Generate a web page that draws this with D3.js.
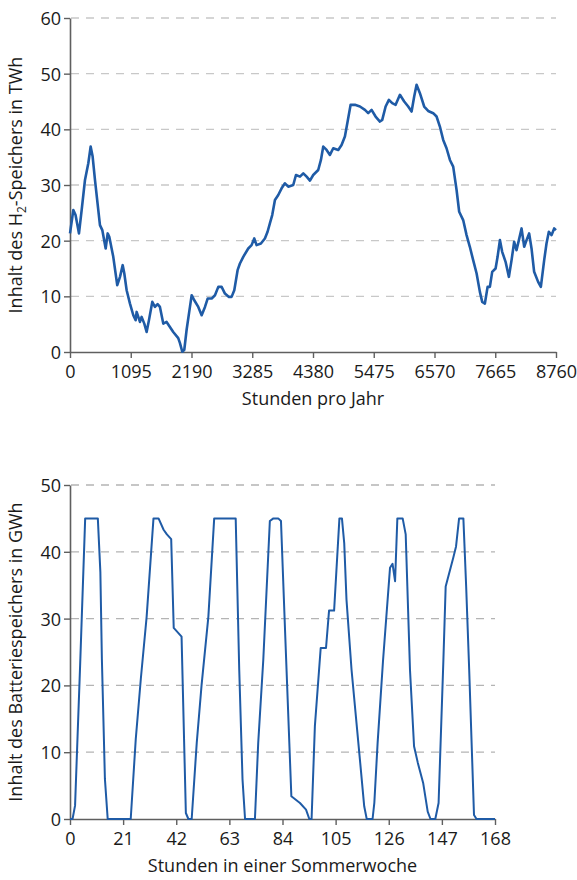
<!DOCTYPE html>
<html>
<head>
<meta charset="utf-8">
<script src="https://cdn.jsdelivr.net/npm/d3@7"></script>
<style>
  html, body { margin: 0; padding: 0; background: #fff; }
  svg { display: block; font-family: "Open Sans", "Noto Sans", sans-serif; }
</style>
</head>
<body>
<svg id="chart" width="577" height="880"></svg>
<script>
// ---- Data: H2 storage (TWh) over the year ----
const h2Hours = [0,60,100,162,210,270,330,372,408,450,510,540,582,643,679,708,780,852,901,950,979,1021,1081,1141,1183,1201,1261,1291,1339,1381,1423,1483,1531,1579,1621,1681,1741,1801,1861,1951,1982,2024,2060,2102,2162,2193,2240,2312,2373,2433,2481,2553,2613,2673,2733,2793,2865,2913,2961,3021,3063,3123,3213,3273,3321,3363,3441,3513,3561,3603,3645,3694,3754,3814,3874,3934,4024,4073,4145,4205,4265,4325,4384,4474,4523,4565,4625,4685,4745,4835,4895,4955,5004,5058,5136,5226,5316,5375,5436,5508,5586,5628,5689,5748,5808,5869,5947,6024,6096,6157,6204,6247,6307,6384,6456,6547,6607,6667,6727,6787,6848,6907,6968,7015,7087,7148,7207,7267,7329,7388,7430,7478,7527,7568,7610,7671,7707,7749,7790,7851,7911,7959,8006,8048,8091,8139,8187,8229,8276,8319,8366,8438,8487,8547,8589,8631,8680,8727,8760];
const h2Values = [21.3,25.5,24.6,21.3,25.5,30.9,33.9,36.9,35.1,30.9,25.5,22.8,21.9,18.6,21.3,20.7,17.1,12.0,13.5,15.6,14.1,11.1,8.7,6.6,5.7,7.2,5.4,6.3,5.1,3.6,5.7,9.0,8.1,8.6,8.1,5.1,5.4,4.5,3.6,2.5,1.6,0.05,0.4,4.0,8.1,10.2,9.3,8.1,6.6,8.1,9.6,9.6,10.2,11.7,11.7,10.5,9.9,9.9,11.1,14.7,15.9,17.1,18.6,19.2,20.4,19.2,19.5,20.4,21.6,23.1,24.6,27.3,28.2,29.4,30.3,29.7,30.0,31.8,31.5,32.1,31.5,30.8,31.8,32.7,34.5,36.9,36.3,35.4,36.6,36.3,37.2,38.7,41.4,44.4,44.4,44.1,43.5,42.9,43.5,42.3,41.4,41.7,44.1,45.3,44.7,44.4,46.2,45.0,44.1,43.2,45.9,48.0,46.5,44.1,43.3,42.9,42.3,40.5,38.1,36.6,34.5,33.3,29.1,25.2,23.7,21.0,18.9,16.5,14.1,10.8,9.0,8.7,11.7,11.7,14.4,15.0,17.1,20.1,18.0,16.2,13.5,16.5,19.8,18.3,20.1,22.2,18.9,20.1,21.3,18.6,14.4,12.6,11.7,16.5,19.5,21.6,21.0,22.2,21.9];
const h2XTicks = [0,1095,2190,3285,4380,5475,6570,7665,8760];
const h2YTicks = [0,10,20,30,40,50,60];

// ---- Data: battery storage (GWh) over a summer week ----
const batHours = [0,1,2,4,6,11,12,12.6,13.8,14.9,24,26,28,30.3,33,35,37,38.3,40,41,44.1,45.8,46.8,48.1,50.1,52,54.7,57,65.5,66.9,68.2,69.2,73.1,74.4,76.4,79,80.4,82.3,83.4,85,87.5,90.9,93.3,94.6,95.5,96.8,99.1,101.2,102.4,104.4,106.5,107.5,108.4,109.3,111.3,114.6,116.3,117.3,119.6,120.3,121.6,123.7,126.5,127.5,128.5,129.4,131.5,132.7,134.4,136,137.5,139.6,141.4,142.5,144.4,145.7,147.6,148.5,151.5,152.6,153.8,155.5,156.6,157.8,159.7,160.7,168];
const batValues = [0,0,2,23,45,45,37,24,6,0,0,12,21,30.3,45,45,43.3,42.6,41.9,28.6,27.3,0.9,0,0,11.4,20,30.3,45,45,22.3,5.9,0,0,11.4,23.8,44.6,45,45,44.6,28.3,3.4,2.4,1.4,0,0,13.9,25.6,25.6,31.2,31.2,45,45,41.3,32.8,22.3,8.9,1.9,0,0,2.4,11.4,23.5,37.6,38.2,35.6,45,45,42.6,22.3,10.9,8.4,5.4,1.1,0,0,2.4,23.8,34.8,39.1,40.8,45,45,34.8,22.3,0.6,0,0];
const batXTicks = [0,21,42,63,84,105,126,147,168];
const batYTicks = [0,10,20,30,40,50];

const svg = d3.select("#chart");
const LINE = "#1f5ba6";
const AXIS = "#5f5f5f";
const TEXT = "#1a1a1a";
const FS = "18px";

function drawPanel(cfg) {
  const x = d3.scaleLinear().domain(cfg.xDomain).range([cfg.left, cfg.right]);
  const y = d3.scaleLinear().domain(cfg.yDomain).range([cfg.bottom, cfg.top]);
  const g = svg.append("g");

  // gridlines
  g.append("g").selectAll("line")
    .data(cfg.yTicks.filter(d => d !== cfg.yDomain[0]))
    .join("line")
    .attr("x1", cfg.left + 1).attr("x2", cfg.right)
    .attr("y1", d => y(d)).attr("y2", d => y(d))
    .attr("stroke", cfg.gridColor).attr("stroke-width", 1.3)
    .attr("stroke-dasharray", "8,7");

  // y axis
  const yAxis = g.append("g").attr("transform", `translate(${cfg.left},0)`)
    .call(d3.axisLeft(y).tickValues(cfg.yTicks).tickSize(6).tickPadding(3).tickSizeOuter(0));
  // x axis
  const xAxis = g.append("g").attr("transform", `translate(0,${cfg.bottom})`)
    .call(d3.axisBottom(x).tickValues(cfg.xTicks).tickSize(6).tickPadding(7).tickSizeOuter(0).tickFormat(d3.format("d")));
  [yAxis, xAxis].forEach(a => {
    a.select(".domain").attr("stroke", AXIS).attr("stroke-width", 1.6);
    a.selectAll(".tick line").attr("stroke", AXIS).attr("stroke-width", 1.4);
    a.selectAll(".tick text").attr("fill", TEXT).style("font-size", FS)
      .style("font-family", '"Open Sans", "Noto Sans", sans-serif');
  });
  yAxis.selectAll(".tick text").attr("dy", "0.36em");

  // line
  const data = cfg.xs.map((h, i) => [h, cfg.ys[i]]);
  g.append("path").datum(data)
    .attr("fill", "none").attr("stroke", LINE)
    .attr("stroke-width", cfg.lineWidth).attr("stroke-linejoin", "round")
    .attr("d", d3.line().x(d => x(d[0])).y(d => y(d[1])));

  // x title
  g.append("text").attr("x", (cfg.left + cfg.right) / 2).attr("y", cfg.xTitleY)
    .attr("text-anchor", "middle").attr("fill", TEXT).style("font-size", FS)
    .text(cfg.xTitle);

  // y title
  const yt = g.append("text")
    .attr("transform", `translate(22,${(cfg.top + cfg.bottom) / 2}) rotate(-90)`)
    .attr("text-anchor", "middle").attr("fill", TEXT).style("font-size", FS);
  cfg.yTitle(yt);
}

drawPanel({
  xDomain: [0, 8760], yDomain: [0, 60],
  left: 70, right: 556, top: 18, bottom: 352,
  xTicks: h2XTicks, yTicks: h2YTicks,
  xs: h2Hours, ys: h2Values, lineWidth: 2.6,
  gridColor: "#c8c8c8",
  xTitle: "Stunden pro Jahr", xTitleY: 405,
  yTitle: t => {
    t.append("tspan").text("Inhalt des H");
    t.append("tspan").attr("dy", 4).style("font-size", "12px").text("2");
    t.append("tspan").attr("dy", -4).text("-Speichers in TWh");
  }
});

drawPanel({
  xDomain: [0, 168], yDomain: [0, 50],
  left: 70, right: 495, top: 485, bottom: 819,
  xTicks: batXTicks, yTicks: batYTicks,
  xs: batHours, ys: batValues, lineWidth: 2,
  gridColor: "#b4b4b4",
  xTitle: "Stunden in einer Sommerwoche", xTitleY: 872,
  yTitle: t => t.text("Inhalt des Batteriespeichers in GWh")
});
</script>
</body>
</html>
